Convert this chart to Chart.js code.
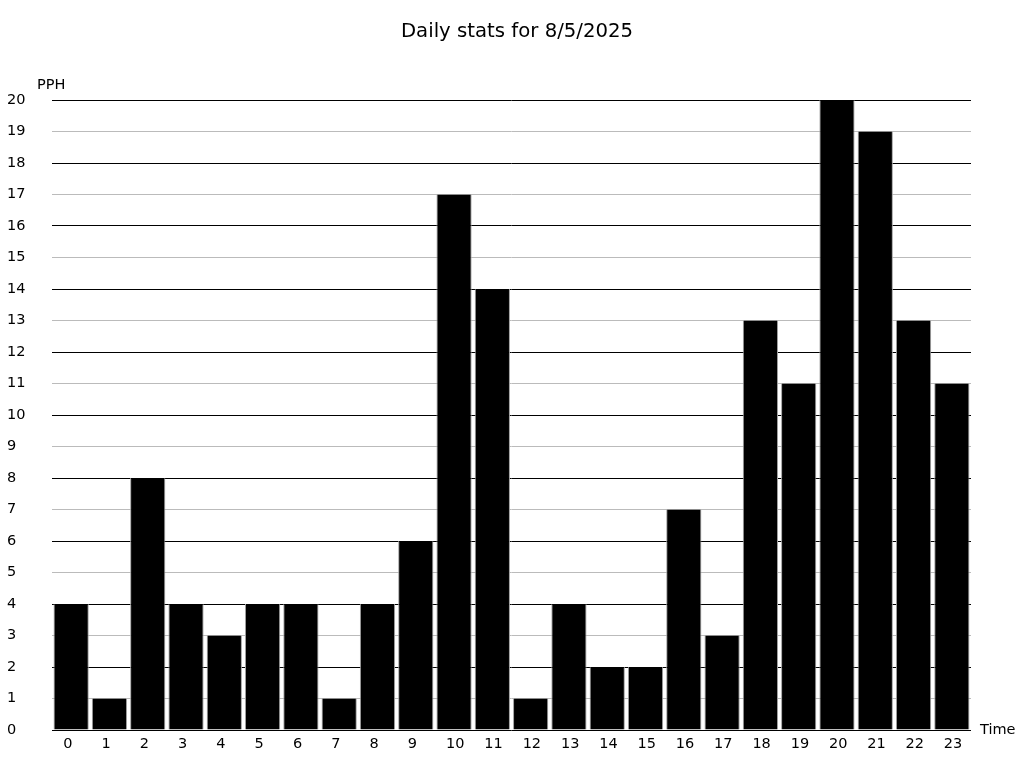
<!DOCTYPE html>
<html>
<head>
<meta charset="utf-8">
<script src="https://cdn.jsdelivr.net/npm/chart.js@4"></script>
<style>
  body { margin: 0; background: #fff; }
  #wrap { width: 1024px; height: 768px; }
</style>
</head>
<body>
<div id="wrap"><canvas id="chart" width="1024" height="768"></canvas></div>
<script>
const hours = ["0","1","2","3","4","5","6","7","8","9","10","11","12","13","14","15","16","17","18","19","20","21","22","23"];
const pphValues = [4, 1, 8, 4, 3, 4, 4, 1, 4, 6, 17, 14, 1, 4, 2, 2, 7, 3, 13, 11, 20, 19, 13, 11];
const yMax = 20;
const titleText = "Daily stats for 8/5/2025";
const yLabel = "PPH";
const xLabel = "Time";

const fontFamily = "'DejaVu Sans', sans-serif";

// title and axis names are drawn as plain text around the chart area
const extraText = {
  id: "extraText",
  afterDraw(chart) {
    const ctx = chart.ctx;
    const area = chart.chartArea;
    ctx.save();
    ctx.fillStyle = "#000";
    ctx.textBaseline = "middle";
    ctx.font = "19.7px " + fontFamily;
    ctx.textAlign = "center";
    ctx.fillText(titleText, 517, 32);
    ctx.font = "14.5px " + fontFamily;
    ctx.textAlign = "left";
    ctx.fillText(yLabel, 37, area.top - 15);
    ctx.fillText(xLabel, area.right + 9, area.bottom);
    ctx.restore();
  },
};

new Chart(document.getElementById("chart"), {
  type: "bar",
  data: {
    labels: hours,
    datasets: [
      {
        data: pphValues,
        backgroundColor: "#000",
        borderColor: "#a0a0a0",
        borderWidth: { left: 1, right: 1, top: 0, bottom: 0 },
        borderSkipped: false,
        barPercentage: 0.92,
        categoryPercentage: 1,
      },
    ],
  },
  options: {
    responsive: false,
    animation: false,
    layout: { padding: { left: 7, right: 53, top: 100, bottom: 0 } },
    plugins: {
      legend: { display: false },
      title: { display: false },
      tooltip: { enabled: false },
    },
    scales: {
      x: {
        grid: { display: false, drawTicks: false },
        border: { display: false },
        ticks: {
          color: "#000",
          font: { family: fontFamily, size: 14.5 },
          padding: 6,
          align: "start",
          labelOffset: -8,
          maxRotation: 0,
          autoSkip: false,
        },
        afterFit: (axis) => { axis.height = 38; },
      },
      y: {
        min: 0,
        max: yMax,
        grid: {
          drawTicks: false,
          lineWidth: 1,
          color: (c) => (c.tick && c.tick.value % 2 === 1 ? "#bbbbbb" : "#000000"),
        },
        border: { display: false },
        ticks: {
          stepSize: 1,
          color: "#000",
          crossAlign: "far",
          font: { family: fontFamily, size: 14.5 },
        },
        afterFit: (axis) => { axis.width = 45; },
      },
    },
  },
  plugins: [extraText],
});
</script>
</body>
</html>
